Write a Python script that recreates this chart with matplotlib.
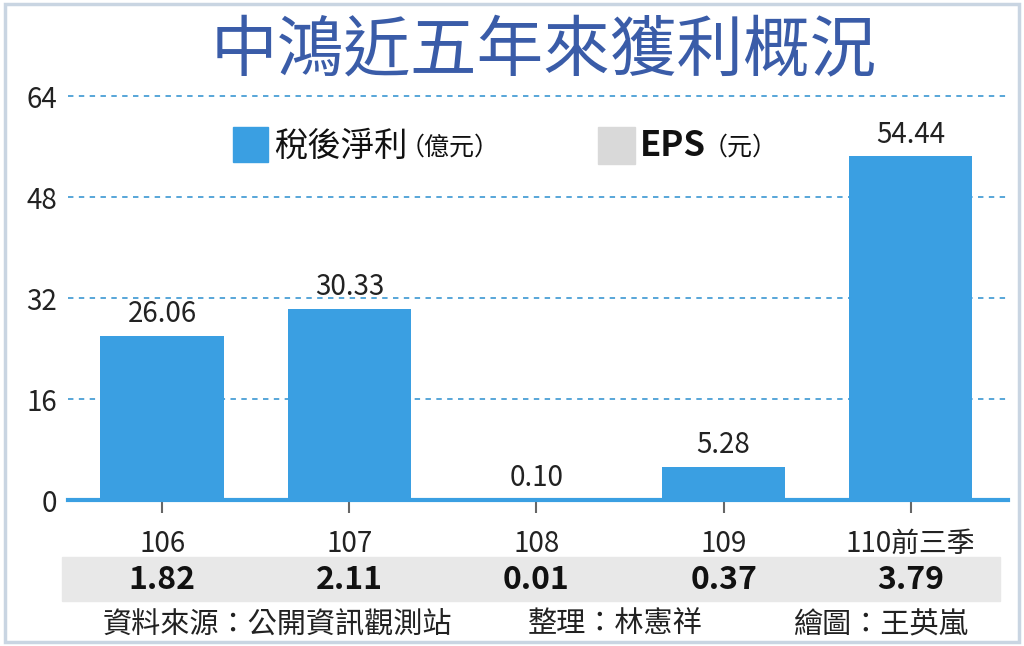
import matplotlib
matplotlib.use("Agg")
import matplotlib.pyplot as plt
from matplotlib.patches import Rectangle
from matplotlib.transforms import blended_transform_factory

plt.rcParams['font.family'] = ['Noto Sans CJK TC', 'DejaVu Sans']

years = ['106', '107', '108', '109', '110前三季']
net_profit = [26.06, 30.33, 0.10, 5.28, 54.44]
eps = [1.82, 2.11, 0.01, 0.37, 3.79]
y_ticks = [0, 16, 32, 48, 64]

title = '中鴻近五年來獲利概況'
source = '資料來源：公開資訊觀測站'
editor = '整理：林憲祥'
artist = '繪圖：王英嵐'

bar_color = '#3a9fe2'
grid_color = '#4a9fd6'
title_color = '#3a5ca8'

fig = plt.figure(figsize=(10.24, 6.46), dpi=100)
ax = fig.add_axes([0.0664, 0.226, 0.918, 0.635])
ax.set_zorder(2)
ax.patch.set_alpha(0)

x = list(range(len(years)))
ax.bar(x, net_profit, width=0.66, color=bar_color, zorder=3)
for xi, v in zip(x, net_profit):
    ax.text(xi, v + 1.0, f'{v:.2f}', ha='center', va='bottom', fontsize=20, color='#222222')

ax.set_xlim(-0.503, 4.52)
ax.set_ylim(0, 65)
ax.set_yticks(y_ticks)
ax.set_yticklabels([str(t) for t in y_ticks], fontsize=20, color='#222222')
ax.set_xticks(x)
ax.set_xticklabels(years, fontsize=20, color='#222222')
ax.tick_params(axis='y', length=0, pad=8)
ax.tick_params(axis='x', length=9, width=1.5, color='#666666', pad=12, direction='out')

for t in y_ticks[1:]:
    ax.axhline(t, color=grid_color, lw=1.3, ls=(0, (3, 3)), zorder=1)

for side in ['top', 'right', 'left']:
    ax.spines[side].set_visible(False)
ax.spines['bottom'].set_color(bar_color)
ax.spines['bottom'].set_linewidth(3)
ax.spines['bottom'].set_zorder(4)

# title
fig.text(0.531, 0.918, title, ha='center', va='center', fontsize=48,
         color=title_color, fontweight='medium')

# legend
fig.patches.append(Rectangle((233 / 1024, 1 - 162 / 646), 35 / 1024, 35 / 646,
                             transform=fig.transFigure, color=bar_color, zorder=5))
fig.text(274 / 1024, 1 - 146 / 646, '稅後淨利', fontsize=24, va='center', color='#111111')
fig.text(400 / 1024, 1 - 148 / 646, '（億元）', fontsize=18, va='center', color='#111111')
fig.patches.append(Rectangle((598 / 1024, 1 - 164 / 646), 37 / 1024, 37 / 646,
                             transform=fig.transFigure, color='#d9d9d9', zorder=5))
fig.text(640 / 1024, 1 - 146 / 646, 'EPS', fontsize=25, va='center', fontweight='bold',
         color='#111111')
fig.text(703 / 1024, 1 - 148 / 646, '（元）', fontsize=18, va='center', color='#111111')

# EPS band
fig.patches.append(Rectangle((62 / 1024, 1 - 601 / 646), 938 / 1024, 44 / 646,
                             transform=fig.transFigure, color='#e8e8e8', zorder=0))
trans = blended_transform_factory(ax.transData, fig.transFigure)
for xi, v in zip(x, eps):
    fig.text(xi, 1 - 580 / 646, f'{v:.2f}', transform=trans, ha='center', va='center',
             fontsize=23, fontweight='bold', color='#111111', zorder=5)

# footer
fig.text(103 / 1024, 1 - 625 / 646, source, fontsize=21, va='center', color='#222222')
fig.text(528 / 1024, 1 - 625 / 646, editor, fontsize=21, va='center', color='#222222')
fig.text(793 / 1024, 1 - 625 / 646, artist, fontsize=21, va='center', color='#222222')

# outer frame
fig.patches.append(Rectangle((5 / 1024, 4 / 646), 1014 / 1024, 638 / 646,
                             transform=fig.transFigure, fill=False,
                             edgecolor='#c9d5e2', lw=2.5, zorder=6))

fig.savefig('out.png', dpi=100)
